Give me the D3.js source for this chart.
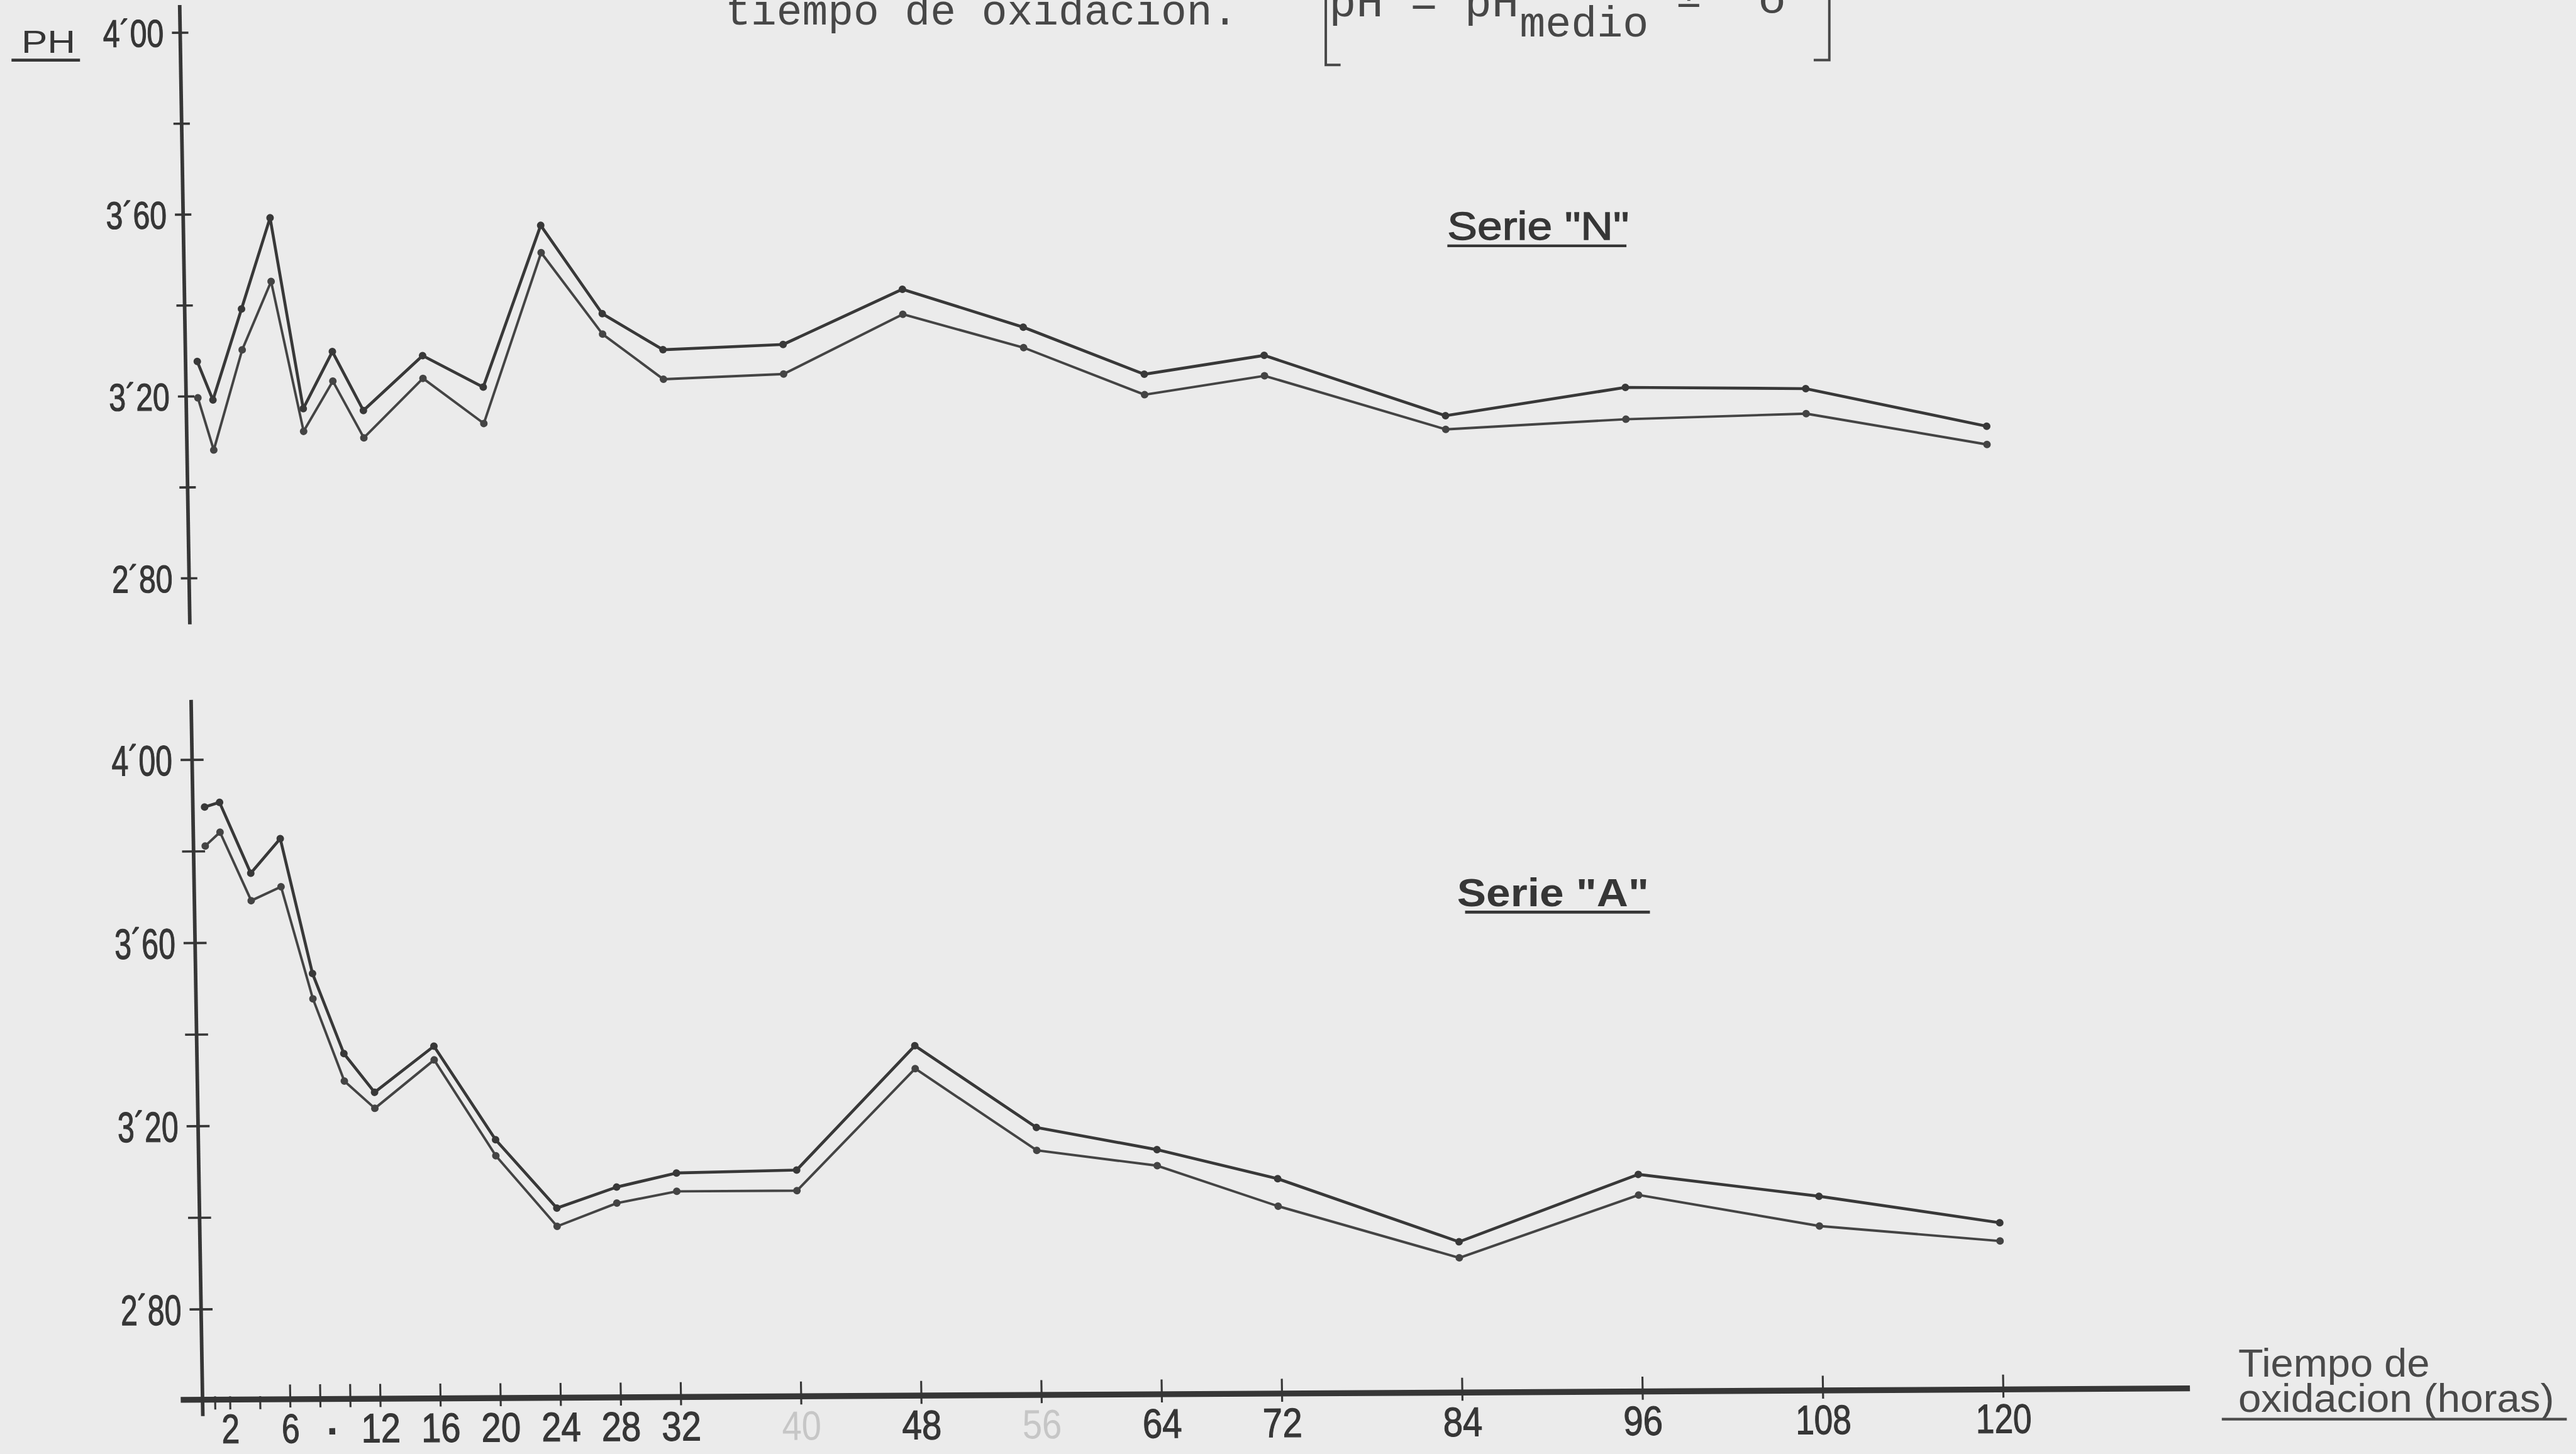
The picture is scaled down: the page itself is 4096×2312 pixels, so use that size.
<!DOCTYPE html>
<html>
<head>
<meta charset="utf-8">
<script src="https://cdn.jsdelivr.net/npm/d3@7"></script>
<style>
  html, body { margin: 0; padding: 0; background: #ebebeb; }
  svg { display: block; }
</style>
</head>
<body>
<svg id="chart" width="4096" height="2312" viewBox="0 0 1568 885"></svg>
<script>
// Sampling times, hours of oxidation
const hours = [1, 2, 4, 6, 8, 10, 12, 16, 20, 24, 28, 32, 40, 48, 56, 64, 72, 84, 96, 108, 120];

// Serie "N": pH medio + σ (upper) and pH medio − σ (lower)
const serieNUpper = [3.275, 3.19, 3.39, 3.59, 3.17, 3.295, 3.165, 3.285, 3.215, 3.57, 3.375, 3.295, 3.305, 3.425, 3.34, 3.235, 3.275, 3.14, 3.20, 3.195, 3.11];
const serieNLower = [3.195, 3.08, 3.30, 3.45, 3.12, 3.23, 3.105, 3.235, 3.135, 3.51, 3.33, 3.23, 3.24, 3.37, 3.295, 3.19, 3.23, 3.11, 3.13, 3.14, 3.07];

// Serie "A": pH medio + σ (upper) and pH medio − σ (lower)
const serieAUpper = [3.895, 3.905, 3.75, 3.825, 3.53, 3.355, 3.27, 3.37, 3.165, 3.015, 3.06, 3.09, 3.095, 3.365, 3.185, 3.135, 3.07, 2.93, 3.075, 3.025, 2.965];
const serieALower = [3.81, 3.84, 3.69, 3.72, 3.475, 3.295, 3.235, 3.34, 3.13, 2.975, 3.025, 3.05, 3.05, 3.315, 3.135, 3.10, 3.01, 2.895, 3.03, 2.96, 2.925];

// pH axis ticks (decimal comma written as an accent)
const yTickValues = [2.8, 3.0, 3.2, 3.4, 3.6, 3.8, 4.0];
const yTickLabels = ["2´80", "", "3´20", "", "3´60", "", "4´00"];

// Time axis ticks and labels
const xMinorTicks = [1, 2, 4];
const xLabelHours = [2, 6, 8, 12, 16, 20, 24, 28, 32, 40, 48, 56, 64, 72, 84, 96, 108, 120];
const xLabelTexts = ["2", "6", "·", "12", "16", "20", "24", "28", "32", "40", "48", "56", "64", "72", "84", "96", "108", "120"];
const xFadedLabels = [40, 56];

const ink = "#363636";
const paper = "#ebebeb";
const letterFont = "'Liberation Sans', Arial, sans-serif";
const typeFont = "'Liberation Mono', 'Courier New', monospace";

const svg = d3.select("#chart");
svg.append("rect").attr("width", 1568).attr("height", 885).attr("fill", paper);

// The hand-drawn axes are slightly out of square on the sheet
const frame = svg.append("g")
  .attr("transform", "matrix(1,-0.00572,0.0164,1,-13.97,0.70)");

const x = d3.scaleLinear().domain([0, 120]).range([121.3, 1218.9]);
const yN = d3.scaleLinear().domain([2.8, 4.0]).range([351.5, 19.4]);
const yA = d3.scaleLinear().domain([2.8, 4.0]).range([796.5, 462]);
const axisX = x(0) + 2;

function drawYAxis(scale, top, bottom, tickHalf, gap, fontSize) {
  const g = frame.append("g")
    .attr("transform", `translate(${axisX},0)`)
    .call(d3.axisLeft(scale)
      .tickValues(yTickValues)
      .tickFormat(d => yTickLabels[yTickValues.indexOf(d)]));
  g.attr("font-family", letterFont).attr("font-size", fontSize);
  g.select(".domain").remove();
  g.selectAll(".tick line")
    .attr("x1", -tickHalf).attr("x2", tickHalf)
    .attr("stroke", ink).attr("stroke-width", 1.4);
  g.selectAll(".tick text")
    .attr("x", -gap).attr("dy", "0.36em")
    .attr("fill", ink)
    .attr("stroke", ink).attr("stroke-width", 0.45)
    .each(function () {
      if (this.textContent) {
        d3.select(this).attr("textLength", 37).attr("lengthAdjust", "spacingAndGlyphs");
      }
    });
  g.append("line")
    .attr("x1", 0).attr("x2", 0).attr("y1", top).attr("y2", bottom)
    .attr("stroke", ink).attr("stroke-width", 2.2);
}

drawYAxis(yN, 3, 380, 5, 10, 23.5);
drawYAxis(yA, 426, 862, 7, 12, 26);

// Time axis along the bottom
const gx = frame.append("g")
  .attr("transform", "translate(0,852)")
  .call(d3.axisBottom(x)
    .tickValues(hours)
    .tickFormat(d => {
      const k = xLabelHours.indexOf(d);
      return k < 0 ? "" : xLabelTexts[k];
    }));
gx.attr("font-family", letterFont).attr("font-size", 25);
gx.select(".domain").remove();
gx.insert("line", ":first-child")
  .attr("x1", 110).attr("x2", 1333).attr("y1", 0).attr("y2", 0)
  .attr("stroke", ink).attr("stroke-width", 3.6);
gx.selectAll(".tick line")
  .attr("y1", d => xMinorTicks.includes(d) ? -2 : -9)
  .attr("y2", d => xMinorTicks.includes(d) ? 6 : 5)
  .attr("stroke", ink).attr("stroke-width", 1.2);
gx.selectAll(".tick text")
  .attr("y", 26.5).attr("dy", null)
  .attr("fill", d => xFadedLabels.includes(d) ? "#c6c6c6" : ink)
  .attr("stroke", d => xFadedLabels.includes(d) ? "none" : ink)
  .attr("stroke-width", 0.45)
  .each(function () {
    const t = this.textContent;
    if (t === "·") {
      d3.select(this).attr("dx", 7).attr("stroke-width", 1.2);
    } else if (t) {
      const len = t.length === 1 ? 11 : t.length === 2 ? 24 : 34;
      d3.select(this).attr("textLength", len).attr("lengthAdjust", "spacingAndGlyphs");
    }
  });

// Series lines with their measured points
function drawSeries(values, scale, width, color) {
  const line = d3.line()
    .x((d, i) => x(hours[i]))
    .y(d => scale(d));
  frame.append("path")
    .datum(values)
    .attr("d", line)
    .attr("fill", "none")
    .attr("stroke", color)
    .attr("stroke-width", width)
    .attr("stroke-linejoin", "round");
  frame.append("g").selectAll("circle")
    .data(values)
    .join("circle")
    .attr("cx", (d, i) => x(hours[i]))
    .attr("cy", d => scale(d))
    .attr("r", 2.3)
    .attr("fill", color);
}

drawSeries(serieNUpper, yN, 1.8, "#383838");
drawSeries(serieNLower, yN, 1.5, "#444444");
drawSeries(serieAUpper, yA, 1.8, "#383838");
drawSeries(serieALower, yA, 1.5, "#444444");

// Lettered labels
const labels = svg.append("g").attr("font-family", letterFont).attr("fill", ink);

labels.append("text")
  .attr("x", 13).attr("y", 32)
  .attr("font-size", 19)
  .attr("textLength", 33).attr("lengthAdjust", "spacingAndGlyphs")
  .text("PH");
labels.append("line")
  .attr("x1", 7).attr("x2", 48.7).attr("y1", 36.6).attr("y2", 36.6)
  .attr("stroke", ink).attr("stroke-width", 1.8);

labels.append("text")
  .attr("x", 881).attr("y", 145.9)
  .attr("font-size", 24.4)
  .attr("stroke", ink).attr("stroke-width", 0.5)
  .attr("textLength", 110.6).attr("lengthAdjust", "spacingAndGlyphs")
  .text('Serie "N"');
labels.append("line")
  .attr("x1", 881).attr("x2", 990).attr("y1", 149.6).attr("y2", 149.6)
  .attr("stroke", ink).attr("stroke-width", 1.6);

labels.append("text")
  .attr("x", 886.9).attr("y", 551.5)
  .attr("font-size", 24)
  .attr("font-weight", "bold")
  .attr("textLength", 116.8).attr("lengthAdjust", "spacingAndGlyphs")
  .text('Serie "A"');
labels.append("line")
  .attr("x1", 891.8).attr("x2", 1004.3).attr("y1", 555.2).attr("y2", 555.2)
  .attr("stroke", ink).attr("stroke-width", 1.8);

labels.append("text")
  .attr("x", 1362.4).attr("y", 837.9)
  .attr("font-size", 24).attr("fill", "#4a4a4a")
  .attr("textLength", 116.5).attr("lengthAdjust", "spacingAndGlyphs")
  .text("Tiempo de");
labels.append("text")
  .attr("x", 1362.4).attr("y", 859.5)
  .attr("font-size", 24).attr("fill", "#4a4a4a")
  .attr("textLength", 192.3).attr("lengthAdjust", "spacingAndGlyphs")
  .text("oxidacion (horas)");
labels.append("line")
  .attr("x1", 1352.4).attr("x2", 1562.4).attr("y1", 863.8).attr("y2", 863.8)
  .attr("stroke", "#4a4a4a").attr("stroke-width", 1.6);

// Typed caption running off the top edge
const caption = svg.append("g").attr("font-family", typeFont).attr("fill", "#474747");
caption.append("text")
  .attr("x", 441.5).attr("y", 15)
  .attr("font-size", 26)
  .attr("textLength", 312).attr("lengthAdjust", "spacingAndGlyphs")
  .text("tiempo de oxidacion.");
caption.append("text")
  .attr("x", 809).attr("y", 9.8)
  .attr("font-size", 27.5)
  .attr("textLength", 115.5).attr("lengthAdjust", "spacingAndGlyphs")
  .text("pH = pH");
caption.append("text")
  .attr("x", 925).attr("y", 22.2)
  .attr("font-size", 26)
  .attr("textLength", 78.5).attr("lengthAdjust", "spacingAndGlyphs")
  .text("medio");
caption.append("text")
  .attr("x", 1020.2).attr("y", 4.2)
  .attr("font-size", 26)
  .text("±");
caption.append("text")
  .attr("x", 1070.6).attr("y", 7.6)
  .attr("font-size", 28)
  .text("σ");
caption.append("path")
  .attr("d", "M807,0 L807,39.5 L816,39.5")
  .attr("fill", "none").attr("stroke", "#474747").attr("stroke-width", 1.5);
caption.append("path")
  .attr("d", "M1113.5,0 L1113.5,36.5 L1104,36.5")
  .attr("fill", "none").attr("stroke", "#474747").attr("stroke-width", 1.5);
</script>
</body>
</html>
